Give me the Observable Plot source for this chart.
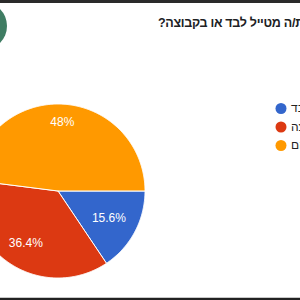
<!DOCTYPE html>
<html>
<head>
<meta charset="utf-8">
<script src="https://cdn.jsdelivr.net/npm/d3@7"></script>
<script src="https://cdn.jsdelivr.net/npm/@observablehq/plot@0.6"></script>
<style>
  html, body { margin: 0; padding: 0; background: #fff; }
  #wrap { position: relative; width: 300px; height: 300px; overflow: hidden; background: #fff; }
  #chart { position: absolute; left: 0; top: 0; }
  .bar-top { position: absolute; left: 0; top: 0; width: 300px; height: 2.5px; background: #2a2a2a; }
  .bar-bot1 { position: absolute; left: 0; top: 296.5px; width: 300px; height: 1px; background: #c8c8c8; }
  .bar-bot2 { position: absolute; left: 0; top: 297.5px; width: 300px; height: 2.5px; background: #222; }
  .avatar { position: absolute; left: -41px; top: 2px; width: 48px; height: 48px; border-radius: 50%; background: #3f7d63; }
  .title { position: absolute; left: 158px; top: 17px; width: max-content; white-space: nowrap; direction: rtl;
           font: bold 12.5px "Liberation Sans", Arial, sans-serif; letter-spacing: -0.3px; line-height: 1; color: #202124; }
</style>
</head>
<body>
<div id="wrap">
  <div id="chart"></div>
  <div class="avatar"></div>
  <div class="title">האם את/ה מטייל לבד או בקבוצה?</div>
  <div class="bar-top"></div>
  <div class="bar-bot1"></div>
  <div class="bar-bot2"></div>
</div>
<script>
// ---- data ----
const categories = ["לבד", "בקבוצה", "שניהם"];
const percents = [15.6, 36.4, 48];
const percentLabels = ["15.6%", "36.4%", "48%"];
const colors = ["#3366cc", "#dc3912", "#ff9900"];

// ---- geometry ----
const cx = 57.5, cy = 190.5, R = 87;
const rows = categories.map((c, i) => ({cat: c, value: percents[i], label: percentLabels[i]}));
const arcs = d3.pie().sort(null).value(d => d.value)
  .startAngle(Math.PI / 2).endAngle(Math.PI / 2 + 2 * Math.PI)(rows);

const px = (a, r) => cx + r * Math.sin(a);
const py = (a, r) => cy - r * Math.cos(a);

const slicePts = [];
for (const a of arcs) {
  slicePts.push({cat: a.data.cat, x: cx, y: cy});
  const n = Math.max(2, Math.ceil((a.endAngle - a.startAngle) / (Math.PI / 360)));
  for (let k = 0; k <= n; k++) {
    const t = a.startAngle + (a.endAngle - a.startAngle) * k / n;
    slicePts.push({cat: a.data.cat, x: px(t, R), y: py(t, R)});
  }
  slicePts.push({cat: a.data.cat, x: cx, y: cy});
}

// label placement: far corner of text box at ~0.86 R
const ctx = document.createElement("canvas").getContext("2d");
ctx.font = "12px 'Liberation Sans', Arial, sans-serif";
const farR = 0.862 * R, boxH = 9;
const labelRows = arcs.map(a => {
  const m = (a.startAngle + a.endAngle) / 2;
  const ux = Math.sin(m), uy = -Math.cos(m);
  const w = ctx.measureText(a.data.label).width;
  const ax = (w / 2) * Math.sign(ux), by = (boxH / 2) * Math.sign(uy);
  const dot = ux * ax + uy * by;
  const d = -dot + Math.sqrt(dot * dot - (ax * ax + by * by - farR * farR));
  return {label: a.data.label, x: cx + d * ux, y: cy + d * uy};
});

const legendRows = categories.map((c, i) => ({cat: c, i}));
const legX = 280.5, legY0 = 108, legStep = 18.5;

const chart = Plot.plot({
  width: 300, height: 300, margin: 0,
  style: {background: "transparent"},
  x: {domain: [0, 300], range: [0, 300], axis: null},
  y: {domain: [0, 300], range: [0, 300], axis: null},
  color: {domain: categories, range: colors},
  marks: [
    Plot.line(slicePts, {x: "x", y: "y", z: "cat", fill: "cat", stroke: "white", strokeWidth: 1, curve: "linear"}),
    Plot.text(labelRows, {x: "x", y: "y", text: "label", fill: "white", fontSize: 12,
      fontFamily: "'Liberation Sans', Arial, sans-serif"}),
    Plot.dot(legendRows, {x: () => legX, y: d => legY0 + d.i * legStep, r: 5.5, fill: "cat"}),
    Plot.text(legendRows, {x: () => legX + 10, y: d => legY0 + d.i * legStep, text: "cat",
      textAnchor: "start", fill: "#222", fontSize: 12, fontFamily: "'Liberation Sans', Arial, sans-serif"})
  ]
});
document.getElementById("chart").appendChild(chart);
</script>
</body>
</html>
